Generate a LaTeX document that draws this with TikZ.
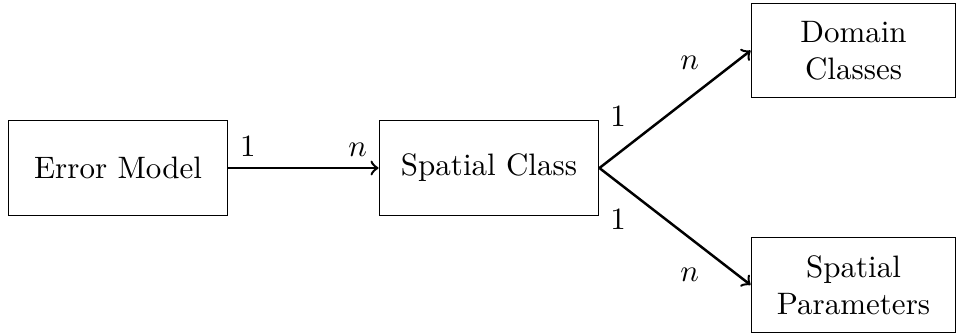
\documentclass[tikz,border=0pt]{standalone}
\usetikzlibrary{calc}
\begin{document}
\begin{tikzpicture}[
            entity/.style={rectangle, draw, minimum height=1.07cm, align=center, inner sep=2pt},
            link/.style={thick, ->}
        ]
            \useasboundingbox (0,0) rectangle (10.85,3.787);

            \node[entity, minimum width=2.49cm] (error) at (1.338,1.882) {Error Model};
            \node[entity, minimum width=2.49cm] (spatial) at (5.544,1.882) {Spatial Class};
            \node[entity, minimum width=2.32cm] (domain) at (9.677,3.214) {Domain\\Classes};
            \node[entity, minimum width=2.32cm] (params) at (9.677,0.556) {Spatial\\Parameters};

            \draw[link] (error.east) -- (spatial.west)
                node[pos=0, above right] (l1) {1}
                node[pos=1, above left] (l2) {$n$};
            \draw[link] (spatial.east) -- (domain.west);
            \draw[link] (spatial.east) -- (params.west);

            \node[anchor=south west] (l3) at ($(spatial.east)+(0,0.35)$) {1};
            \node[anchor=north west] (l4) at ($(spatial.east)+(0,-0.34)$) {1};
            \node[anchor=south east] (l5) at ($(domain.west)+(-0.46,-0.34)$) {$n$};
            \node[anchor=north east] (l6) at ($(params.west)+(-0.46,0.32)$) {$n$};

        \end{tikzpicture}
\end{document}
